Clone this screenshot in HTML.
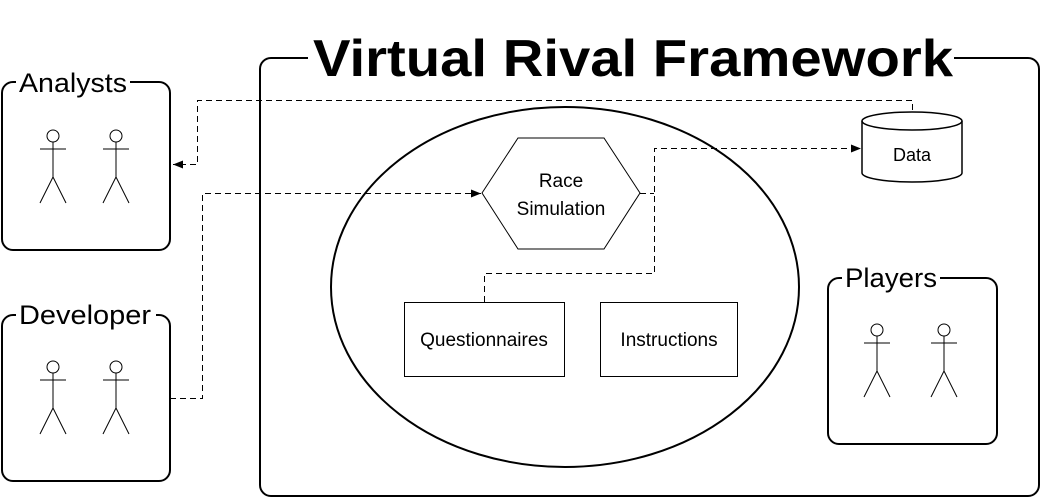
<!DOCTYPE html>
<html><head><style>body{margin:0;background:#fff}svg{display:block}text{font-family:"Liberation Sans",sans-serif}</style></head>
<body>
<svg width="1041" height="498" viewBox="0 0 1041 498" xmlns="http://www.w3.org/2000/svg">
<defs><marker id="a" markerWidth="10" markerHeight="8" refX="10" refY="4" orient="auto" markerUnits="userSpaceOnUse"><path d="M0,0 L10,4 L0,8z" fill="#000"/></marker>
<g id="act" fill="none" stroke="#000">
<circle cx="0" cy="0" r="6"/><path d="M0,6 V41 M-13,13 H13 M-13,67 L0,41 L13,67"/>
</g></defs>
<g fill="none" stroke="#000">
<rect x="260" y="58" width="779" height="438" rx="11" stroke-width="2"/>
<rect x="2" y="82" width="168" height="168" rx="11" stroke-width="2"/>
<rect x="2" y="315" width="168" height="166" rx="11" stroke-width="2"/>
<rect x="828" y="278" width="169" height="166" rx="11" stroke-width="2"/>
<ellipse cx="565" cy="287" rx="234" ry="180" stroke-width="2"/>
<polygon points="482,193 518,138 604,138 640,193 604,249 518,249"/>
<rect x="404.5" y="302.5" width="160" height="74"/>
<rect x="600.5" y="302.5" width="137" height="74"/>
<path d="M862,121 L862,173 A50,9 0 0 0 962,173 L962,121" fill="#fff" stroke-width="1.5"/>
<ellipse cx="912" cy="121" rx="50" ry="9" stroke-width="1.5"/>
<g stroke-dasharray="6,4">
<path d="M912.5,110 V100.5 H197.5 V164.5 H173" marker-end="url(#a)"/>
<path d="M170,398.5 H202.5 V193.5 H481" marker-end="url(#a)"/>
<path d="M484.5,302 V273.5 H654.5 V148.5 H861" marker-end="url(#a)"/>
<path d="M640,193.5 H654"/>
</g>
</g>
<g fill="#fff">
<rect x="308" y="30" width="646" height="52"/>
<rect x="16" y="70" width="114" height="28"/>
<rect x="16" y="302" width="140" height="28"/>
<rect x="842" y="265" width="98" height="28"/>
</g>
<use href="#act" x="53" y="136"/><use href="#act" x="116" y="136"/>
<use href="#act" x="53" y="367"/><use href="#act" x="116" y="367"/>
<use href="#act" x="877" y="330"/><use href="#act" x="944" y="330"/>
<g fill="#000" text-anchor="middle">
<text x="633" y="76" font-size="52" font-weight="bold" textLength="640" lengthAdjust="spacingAndGlyphs">Virtual Rival Framework</text>
<text x="561" y="187" font-size="19">Race</text>
<text x="561" y="215" font-size="19">Simulation</text>
<text x="484" y="346" font-size="19">Questionnaires</text>
<text x="669" y="346" font-size="19">Instructions</text>
<text x="912" y="161" font-size="18">Data</text>
</g>
<g fill="#000" font-size="27">
<text x="19" y="92" textLength="108" lengthAdjust="spacingAndGlyphs">Analysts</text>
<text x="19" y="324" textLength="132" lengthAdjust="spacingAndGlyphs">Developer</text>
<text x="845" y="287" textLength="92" lengthAdjust="spacingAndGlyphs">Players</text>
</g>
</svg>
</body></html>
